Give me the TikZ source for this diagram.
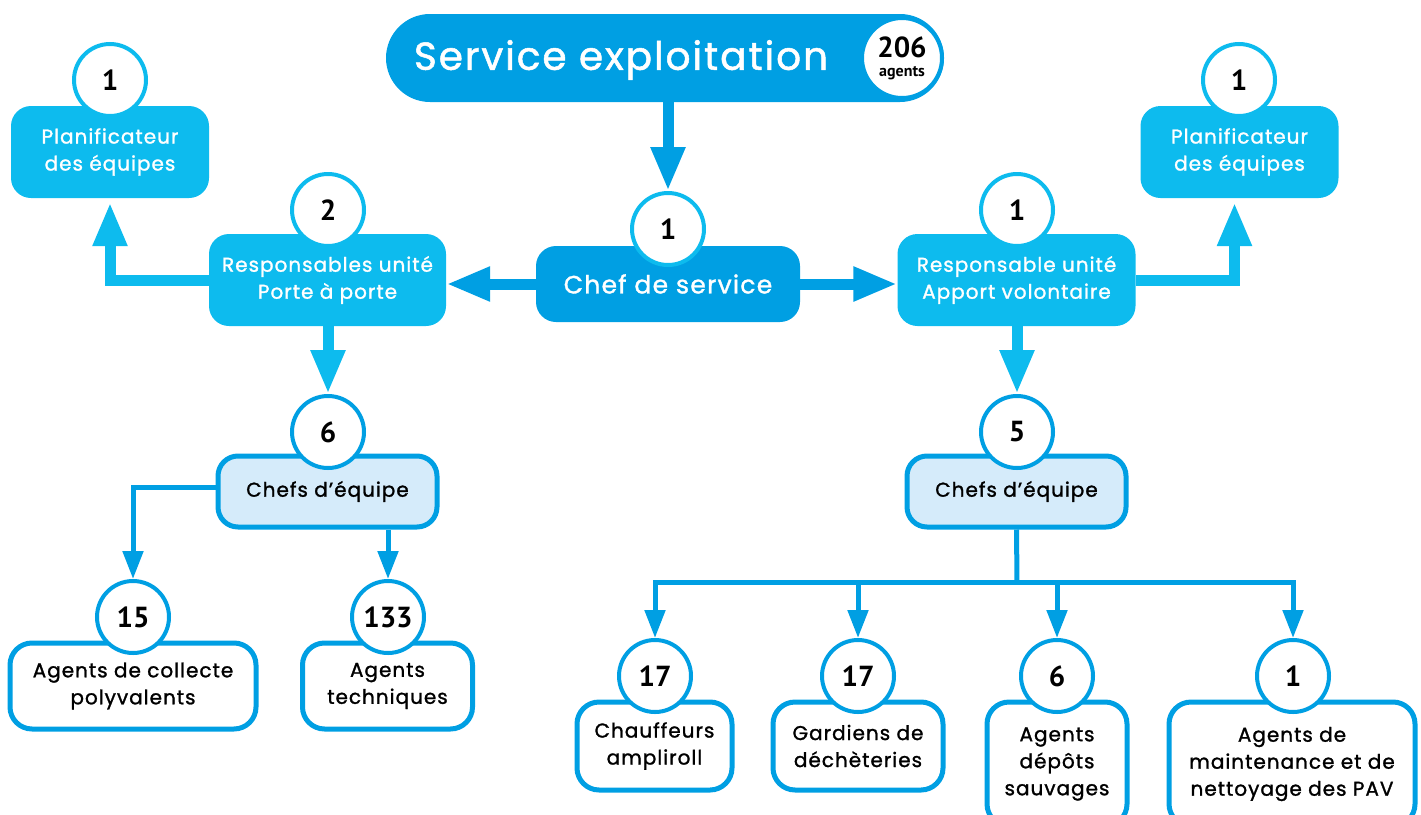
\documentclass[tikz,border=0pt]{standalone}
\usepackage{fontspec}
\setmainfont{Poppins}
\newfontfamily\labfont{Poppins}[FakeBold=1.3,LetterSpace=5]
\newfontfamily\numfont{PT Sans}
\usetikzlibrary{arrows.meta}
\definecolor{dblue}{HTML}{009FE3}
\definecolor{cyanb}{HTML}{0DBBEE}
\definecolor{pale}{HTML}{D5EBFA}
\newcommand\wlab{\labfont\fontsize{20}{27}\selectfont}
\newcommand\blab{\labfont\fontsize{20}{27}\selectfont}
\newcommand\numf{\numfont\bfseries\fontsize{29}{29}\selectfont}
\begin{document}
\begin{tikzpicture}[x=1pt,y=-1pt,line join=miter,
  cbox/.style={fill=cyanb,rounded corners=20pt,text=white,align=center,font=\wlab,inner sep=0pt},
  dbox/.style={fill=dblue,rounded corners=20pt,text=white,align=center,inner sep=0pt},
  pbox/.style={fill=pale,draw=dblue,line width=5pt,rounded corners=20pt,align=center,font=\blab,inner sep=0pt},
  wbox/.style={fill=white,draw=dblue,line width=5pt,rounded corners=22pt,align=center,font=\blab,inner sep=0pt},
  cnum/.style={circle,fill=white,draw=cyanb,line width=4pt,minimum size=72pt,inner sep=0pt,font=\numf},
  dnum/.style={cnum,draw=dblue},
  bigarr/.style={line width=11pt,-{Triangle[length=44pt,width=32pt]}},
  smallarr/.style={draw=dblue,line width=5pt,-{Triangle[length=28pt,width=20pt]}},
  bus/.style={draw=dblue,line width=5pt}]
\useasboundingbox (0,0) rectangle (1421,814);
\clip (0,0) rectangle (1421,814);
% top
\node[dbox,rounded corners=44pt,minimum width=558,minimum height=88] (top) at (665,58) {};
\node[text=white,font=\labfont\fontsize{39}{40}\selectfont,inner sep=0pt] (toptitle) at (621,60) {Service exploitation};
\node[dnum,minimum size=80pt,align=center] (n206) at (902,58) {206\\[-10pt]{\fontsize{16}{16}\selectfont agents}};
% chef
\node[dbox,font=\labfont\fontsize{25}{27}\selectfont,minimum width=264,minimum height=76] (chef) at (668,284) {Chef de service};
\node[cnum] (c0) at (668,229) {1};
% left branch
\node[cbox,minimum width=237,minimum height=92] (resp1) at (327.5,280) {Responsables unité\\Porte à porte};
\node[cnum] (c2) at (328,210) {2};
\node[cbox,minimum width=198,minimum height=92] (plan1) at (110,152) {Planificateur\\des équipes};
\node[cnum] (c1a) at (110,80) {1};
\node[pbox,minimum width=219,minimum height=71] (ce1) at (327.5,491.5) {Chefs d’équipe};
\node[dnum] (c6) at (328,432) {6};
\node[wbox,minimum width=246,minimum height=86] (ag1) at (133,686) {Agents de collecte\\polyvalents};
\node[dnum] (c15) at (133,617) {15};
\node[wbox,minimum width=170,minimum height=86] (ag2) at (387.5,686) {Agents\\techniques};
\node[dnum] (c133) at (388,617) {133};
% right branch
\node[cbox,minimum width=238,minimum height=92] (resp2) at (1016.5,280) {Responsable unité\\Apport volontaire};
\node[cnum] (c1b) at (1017,210) {1};
\node[cbox,minimum width=198,minimum height=92] (plan2) at (1239.5,152) {Planificateur\\des équipes};
\node[cnum] (c1c) at (1239,80) {1};
\node[pbox,minimum width=219,minimum height=71] (ce2) at (1016.5,491.5) {Chefs d’équipe};
\node[dnum] (c5) at (1017,432) {5};
\node[wbox,minimum width=155,minimum height=88] (ag3) at (654.5,746) {Chauffeurs\\ampliroll};
\node[dnum] (c17a) at (655,676) {17};
\node[wbox,minimum width=170,minimum height=88] (ag4) at (858,746) {Gardiens de\\déchèteries};
\node[dnum] (c17b) at (858,676) {17};
\node[wbox,minimum width=140,minimum height=124] (ag5) at (1057,764) {Agents\\dépôts\\sauvages};
\node[dnum] (c6b) at (1057,676) {6};
\node[wbox,minimum width=246,minimum height=124] (ag6) at (1292,764) {Agents de\\maintenance et de\\nettoyage des PAV};
\node[dnum] (c1d) at (1293,676) {1};
% connectors
\draw[bigarr,draw=dblue] (top.south -| c0) -- (c0.north);
\draw[bigarr,draw=dblue] (chef.west) -- (chef.west -| resp1.east);
\draw[bigarr,draw=dblue] (chef.east) -- (chef.east -| resp2.west);
\draw[bigarr,draw=cyanb,shorten >=4pt] (resp1.west) -| (plan1.south);
\draw[bigarr,draw=cyanb,shorten >=4pt] (resp2.east) -| ([xshift=-5pt]plan2.south);
\draw[bigarr,draw=cyanb] (resp1.south -| c6) -- (c6.north);
\draw[bigarr,draw=cyanb] (resp2.south -| c5) -- (c5.north);
\draw[smallarr] ([yshift=4pt]ce1.west) -| (c15.north);
\draw[smallarr] (ce1.south -| c133) -- (c133.north);
\coordinate (hub) at (1017,582);
\draw[bus] (ce2.south) -- (hub);
\draw[smallarr] (hub) -| (c17a.north);
\draw[smallarr] (hub) -| (c17b.north);
\draw[smallarr] (hub) -| (c6b.north);
\draw[smallarr] (hub) -| (c1d.north);
\end{tikzpicture}
\end{document}
